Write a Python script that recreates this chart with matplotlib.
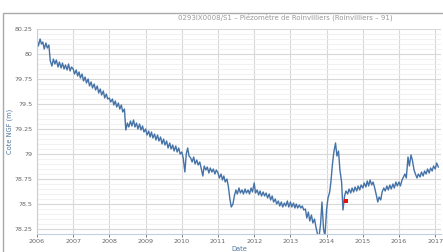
#Importamos librerias
import numpy as np
import pandas as pd
import matplotlib
matplotlib.use('Agg')
import matplotlib.pyplot as plt
import matplotlib.dates as mdates
import matplotlib.patches as mpatches

#Niveaux (cote NGF en m, deux valeurs par mois)
niv_2006 = [80.14, 80.08, 80.15, 80.10, 80.12, 80.05, 80.11, 80.06, 80.09, 79.93, 79.88, 79.95,
            79.90, 79.94, 79.87, 79.92, 79.86, 79.91, 79.85, 79.89, 79.84, 79.90, 79.83, 79.87]
niv_2007 = [79.85, 79.80, 79.84, 79.78, 79.82, 79.76, 79.80, 79.73, 79.77, 79.71, 79.75, 79.68,
            79.72, 79.66, 79.70, 79.64, 79.68, 79.61, 79.65, 79.59, 79.63, 79.56, 79.60, 79.55]
niv_2008 = [79.56, 79.52, 79.55, 79.49, 79.53, 79.47, 79.51, 79.45, 79.49, 79.42, 79.45, 79.24,
            79.31, 79.27, 79.33, 79.28, 79.34, 79.27, 79.31, 79.25, 79.30, 79.24, 79.28, 79.22]
niv_2009 = [79.25, 79.19, 79.23, 79.17, 79.22, 79.16, 79.20, 79.14, 79.19, 79.13, 79.17, 79.10,
            79.15, 79.09, 79.13, 79.06, 79.11, 79.05, 79.09, 79.03, 79.08, 79.02, 79.06, 79.00]
niv_2010 = [79.02, 78.96, 78.82, 79.00, 79.06, 78.98, 78.96, 78.92, 78.97, 78.90, 78.94, 78.89,
            78.92, 78.86, 78.78, 78.88, 78.84, 78.87, 78.81, 78.86, 78.82, 78.85, 78.80, 78.84]
niv_2011 = [78.81, 78.76, 78.80, 78.74, 78.78, 78.72, 78.75, 78.68, 78.55, 78.47, 78.50, 78.58,
            78.64, 78.60, 78.66, 78.61, 78.64, 78.60, 78.65, 78.61, 78.64, 78.60, 78.66, 78.62]
niv_2012 = [78.71, 78.61, 78.64, 78.59, 78.63, 78.58, 78.62, 78.58, 78.61, 78.56, 78.60, 78.54,
            78.58, 78.52, 78.55, 78.50, 78.53, 78.48, 78.52, 78.47, 78.51, 78.48, 78.53, 78.47]
niv_2013 = [78.52, 78.47, 78.51, 78.46, 78.50, 78.46, 78.49, 78.46, 78.48, 78.44, 78.45, 78.36,
            78.42, 78.33, 78.39, 78.31, 78.35, 78.27, 78.20, 78.16, 78.30, 78.52, 78.25, 78.18]
niv_2014 = [78.45, 78.56, 78.62, 78.74, 78.90, 79.02, 79.11, 78.98, 79.03, 78.84, 78.72, 78.44,
            78.58, 78.63, 78.60, 78.65, 78.61, 78.66, 78.62, 78.67, 78.63, 78.68, 78.64, 78.69]
niv_2015 = [78.66, 78.71, 78.67, 78.73, 78.68, 78.74, 78.69, 78.72, 78.66, 78.60, 78.52, 78.57,
            78.54, 78.62, 78.66, 78.63, 78.68, 78.64, 78.69, 78.65, 78.70, 78.66, 78.72, 78.68]
niv_2016 = [78.72, 78.68, 78.74, 78.77, 78.80, 78.76, 78.97, 78.88, 78.99, 78.94, 78.84, 78.80,
            78.76, 78.80, 78.77, 78.82, 78.78, 78.83, 78.80, 78.85, 78.81, 78.86, 78.83, 78.88]
niv_2017 = [78.85, 78.91, 78.87]

#Mesure ponctuelle (point rouge)
date_ponct = ['2014-07-15']
niv_ponct = [78.53]

titre = "0293IX0008/S1 \u2013 Piézomètre de Roinvilliers (Roinvilliers \u2013 91)"

niveaux = (niv_2006 + niv_2007 + niv_2008 + niv_2009 + niv_2010 + niv_2011 +
           niv_2012 + niv_2013 + niv_2014 + niv_2015 + niv_2016 + niv_2017)
dates = pd.date_range('2006-01-01', periods=len(niveaux), freq='SMS')

#Figure
fig = plt.figure(figsize=(4.43, 2.52), dpi=100)
ax = fig.add_axes([37/443, 1 - 234/252, 404/443, 205/252])

ax.plot(dates, niveaux, color='#4572A7', linewidth=1.0)
ax.plot(pd.to_datetime(date_ponct), niv_ponct, 's', color='#E8100C', markersize=2.2, markeredgewidth=0)

ax.set_xlim(pd.Timestamp('2006-01-01'), pd.Timestamp('2017-02-28'))
ax.set_ylim(78.2, 80.25)
ax.xaxis.set_major_locator(mdates.YearLocator())
ax.xaxis.set_major_formatter(mdates.DateFormatter('%Y'))
ax.set_yticks([78.25, 78.5, 78.75, 79, 79.25, 79.5, 79.75, 80, 80.25])
ax.set_yticklabels(['78.25', '78.5', '78.75', '79', '79.25', '79.5', '79.75', '80', '80.25'])
ax.set_yticks(np.arange(78.2, 80.26, 0.05), minor=True)

ax.grid(which='major', color='#D8D8D8', linewidth=0.8)
ax.grid(which='minor', axis='y', color='#EFEFEF', linewidth=0.6)
ax.set_axisbelow(True)

for s in ['top', 'right']:
    ax.spines[s].set_visible(False)
ax.spines['left'].set_color('#C0D0E0')
ax.spines['bottom'].set_color('#C0D0E0')
ax.tick_params(axis='both', labelsize=4.6, colors='#666666', length=2, width=0.6)
ax.tick_params(axis='x', pad=1.5)
ax.tick_params(axis='y', length=0, pad=3)
ax.tick_params(which='minor', length=0)

#Titres des axes et titre général
fig.text(239/443, 1 - 249/252, "Date", fontsize=4.8, color='#4D759E', ha='center', va='center')
fig.text(10/443, 1 - 131/252, "Cote NGF (m)", fontsize=4.8, color='#4D759E', ha='center', va='center',
         rotation=90)
fig.text(285/443, 1 - 17/252, titre, fontsize=5, color='#999999', ha='center', va='center')

#Cadre extérieur
cadre = mpatches.Rectangle((3/443, -0.1), 1.2, 1 - 13/252 + 0.1, transform=fig.transFigure,
                           fill=False, edgecolor='#AAAAAA', linewidth=1.0)
fig.patches.append(cadre)

plt.savefig('out.png', dpi=100)
